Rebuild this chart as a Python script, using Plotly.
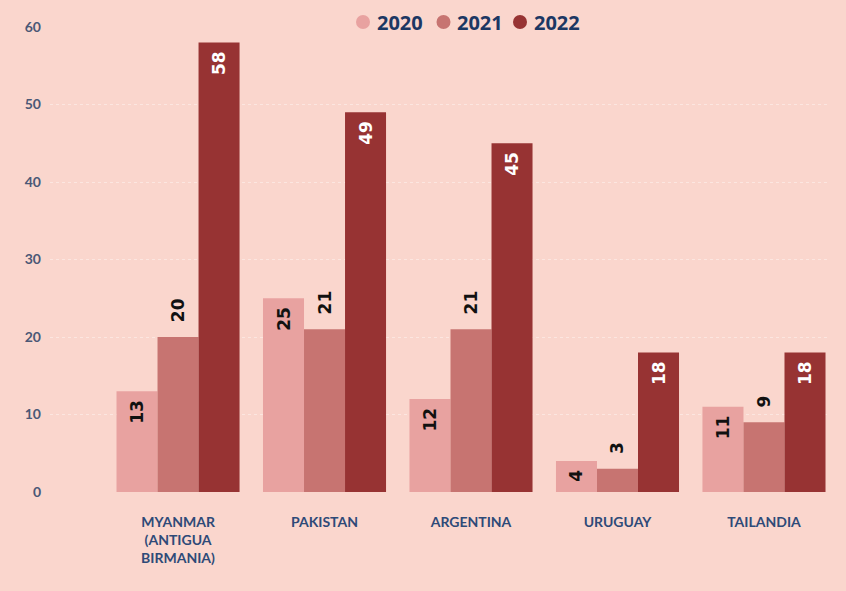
import plotly.graph_objects as go

categories = ["MYANMAR<br>(ANTIGUA<br>BIRMANIA)", "PAKISTAN", "ARGENTINA", "URUGUAY", "TAILANDIA"]
years = ["2020", "2021", "2022"]
values_2020 = [13, 25, 12, 4, 11]
values_2021 = [20, 21, 21, 3, 9]
values_2022 = [58, 49, 45, 18, 18]
y_ticks = [0, 10, 20, 30, 40, 50, 60]

colors = {"2020": "#E8A2A0", "2021": "#C77471", "2022": "#973333"}
series = {"2020": values_2020, "2021": values_2021, "2022": values_2022}
textpos = {"2020": "inside", "2021": "outside", "2022": "inside"}
textcol = {"2020": "#111111", "2021": "#111111", "2022": "#FFFFFF"}

NB = "\u00a0"

fig = go.Figure()
for yr in years:
    if textpos[yr] == "inside":
        labels = [f"{v}{NB}" for v in series[yr]]
    else:
        labels = [f"{NB}{NB}{v}" for v in series[yr]]
    fig.add_trace(go.Bar(
        x=categories, y=series[yr], name=yr,
        marker=dict(color=colors[yr], line=dict(width=0)),
        text=labels,
        textposition=textpos[yr],
        insidetextanchor="end",
        textangle=-90,
        textfont=dict(family="DejaVu Sans", size=17, color=textcol[yr], weight="bold"),
        cliponaxis=False,
        showlegend=False,
    ))

# custom legend (circle markers + bold labels) above the plot area
plot_left, plot_w = 50, 778
plot_bottom, plot_h = 492, 465
legend_py = 22
legend_circle_px = [363, 443.5, 520]
for yr, cx in zip(years, legend_circle_px):
    px = (cx - plot_left) / plot_w
    py = (plot_bottom - legend_py) / plot_h
    fig.add_shape(type="circle", xref="paper", yref="paper",
                  xsizemode="pixel", ysizemode="pixel",
                  xanchor=px, yanchor=py, x0=-7, x1=7, y0=-7, y1=7,
                  fillcolor=colors[yr], line=dict(width=0), layer="above")
    fig.add_annotation(x=(cx + 12 - plot_left) / plot_w, y=py, xref="paper", yref="paper",
                       text=yr, showarrow=False, xanchor="left", yanchor="middle",
                       font=dict(family="Open Sans", size=20, color="#1C3763", weight="bold"))

bg = "#FAD6CD"
fig.update_layout(
    width=846, height=591,
    paper_bgcolor=bg, plot_bgcolor=bg,
    margin=dict(l=50, r=18, t=27, b=99, autoexpand=False),
    barmode="group", bargap=0.16, bargroupgap=0,
    showlegend=False,
    xaxis=dict(range=[-0.874, 4.437], showgrid=False, zeroline=False, showline=False,
               tickfont=dict(family="Lato", size=14, color="#2E4A78", weight="bold"),
               ticks="", tickangle=0, ticklabelstandoff=20),
    yaxis=dict(range=[0, 60], tickvals=y_ticks, showgrid=True, gridcolor="#FCE6E0",
               griddash="dot", gridwidth=1, zeroline=False, showline=False,
               tickfont=dict(family="Lato", size=14, color="#4A5876", weight="bold"),
               ticks="", ticklabelstandoff=8),
    font=dict(family="Lato"),
)

fig.write_html("out.html", config={"displayModeBar": False},
               post_script="document.body.style.margin='0';document.body.style.overflow='hidden';")
